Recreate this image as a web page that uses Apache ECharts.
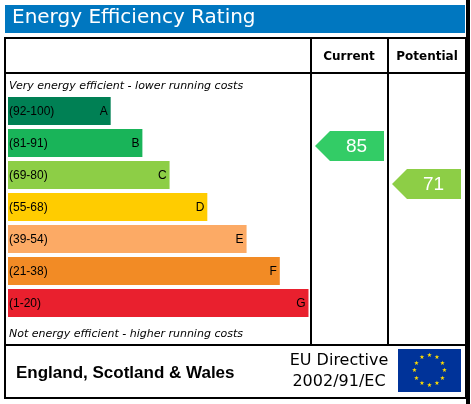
<!DOCTYPE html><html><head><meta charset="utf-8">
<script src="https://cdn.jsdelivr.net/npm/echarts@6/dist/echarts.min.js"></script>
<style>html,body{margin:0;background:#fff}#c{width:471px;height:404px}</style></head><body><div id="c"></div>
<script>
const bands=['A','B','C','D','E','F','G'];
const ranges=['(92-100)','(81-91)','(69-80)','(55-68)','(39-54)','(21-38)','(1-20)'];
const lengths=[34,44.5,53.5,66,79,90,99.5];
const colors=['#008054','#19b459','#8dce46','#ffcc00','#fcaa65','#f28b25','#e9202e'];
const currentRating=85, potentialRating=71;
function bandOf(r){return r>=92?0:r>=81?1:r>=69?2:r>=55?3:r>=39?4:r>=21?5:6;}
function arrowColor(r){return ['#008054','#33cc66','#8dce46','#ffcc00','#fcaa65','#f28b25','#e9202e'][bandOf(r)];}
const chart=echarts.init(document.getElementById('c'));
const F='DejaVu Sans';
chart.setOption({
 animation:false,
 grid:[{left:8,top:95,width:302,height:224},{left:312,top:95,width:154,height:224}],
 xAxis:[{type:'value',min:0,max:100,show:false,gridIndex:0},{type:'value',min:0,max:2,show:false,gridIndex:1}],
 yAxis:[{type:'category',data:bands,inverse:true,show:false,gridIndex:0},{type:'category',data:bands,inverse:true,show:false,gridIndex:1}],
 graphic:[
  {type:'rect',shape:{x:5,y:5,width:460,height:28},style:{fill:'#0077c0'}},
  {type:'text',left:12,top:8,style:{text:'Energy Efficiency Rating',fill:'#fff',font:'20px "'+F+'"'}},
  {type:'rect',shape:{x:5,y:38,width:461,height:360},style:{fill:'none',stroke:'#000',lineWidth:2}},
  {type:'line',shape:{x1:5,y1:73,x2:466,y2:73},style:{stroke:'#000',lineWidth:2}},
  {type:'line',shape:{x1:311,y1:38,x2:311,y2:345},style:{stroke:'#000',lineWidth:2}},
  {type:'line',shape:{x1:388,y1:38,x2:388,y2:345},style:{stroke:'#000',lineWidth:2}},
  {type:'line',shape:{x1:5,y1:345,x2:466,y2:345},style:{stroke:'#000',lineWidth:2}},
  {type:'line',shape:{x1:468,y1:0,x2:468,y2:404},style:{stroke:'#000',lineWidth:4}},
  {type:'text',x:349,y:57,style:{text:'Current',fill:'#000',font:'bold 12px "'+F+'"',align:'center',verticalAlign:'middle'}},
  {type:'text',x:427,y:57,style:{text:'Potential',fill:'#000',font:'bold 12px "'+F+'"',align:'center',verticalAlign:'middle'}},
  {type:'text',x:9,y:86,style:{text:'Very energy efficient - lower running costs',fill:'#000',font:'italic 11px "'+F+'"',verticalAlign:'middle'}},
  {type:'text',x:9,y:334,style:{text:'Not energy efficient - higher running costs',fill:'#000',font:'italic 11px "'+F+'"',verticalAlign:'middle'}},
  {type:'text',x:16,y:373,style:{text:'England, Scotland & Wales',fill:'#000',font:'bold 17px "Liberation Sans"',verticalAlign:'middle'}},
  {type:'text',x:339,y:361,style:{text:'EU Directive',fill:'#000',font:'16px "'+F+'"',align:'center',verticalAlign:'middle'}},
  {type:'text',x:339,y:382,style:{text:'2002/91/EC',fill:'#000',font:'16px "'+F+'"',align:'center',verticalAlign:'middle'}},
  {type:'rect',shape:{x:398,y:349,width:63,height:43},style:{fill:'#003399'}},
  ...Array.from({length:12},(_,i)=>({type:'text',x:429.5+15*Math.sin(i*Math.PI/6),y:370.5-15*Math.cos(i*Math.PI/6),style:{text:'★',fill:'#ffdd00',font:'6px "'+F+'"',align:'center',verticalAlign:'middle'}}))
 ],
 series:[
  {type:'bar',xAxisIndex:0,yAxisIndex:0,barWidth:28,data:lengths.map((v,i)=>({value:v,itemStyle:{color:colors[i]}})),
   label:{show:true,position:'insideLeft',offset:[-4,1],formatter:p=>'{r|'+ranges[p.dataIndex]+'}',rich:{r:{font:'bold 12px "'+F+'"',color:'#000'}}}},
  {type:'bar',xAxisIndex:0,yAxisIndex:0,barWidth:28,barGap:'-100%',data:lengths,itemStyle:{color:'transparent'},silent:true,
   label:{show:true,position:'insideRight',offset:[2,1],formatter:p=>bands[p.dataIndex],font:'27px "'+F+'"',color:'#000'}},
  {type:'custom',xAxisIndex:1,yAxisIndex:1,data:[[0,currentRating],[1,potentialRating]],
   renderItem:(params,api)=>{
    const col=api.value(0),r=api.value(1);
    const p0=api.coord([col,bandOf(r)]),p1=api.coord([col+1,bandOf(r)]);
    const x0=p0[0]+3,x1=p1[0]-5,cy=p0[1]+3+(r===85?0:6),h=30;
    return {type:'group',children:[
     {type:'polygon',shape:{points:[[x0,cy],[x0+15,cy-h/2],[x1,cy-h/2],[x1,cy+h/2],[x0+15,cy+h/2]]},style:{fill:arrowColor(r)}},
     {type:'text',x:(x0+x1)/2+7,y:cy+1,style:{text:String(r),fill:'#fff',font:'19px "Liberation Sans"',align:'center',verticalAlign:'middle'}}]};
   }}
 ]
});
</script></body></html>
